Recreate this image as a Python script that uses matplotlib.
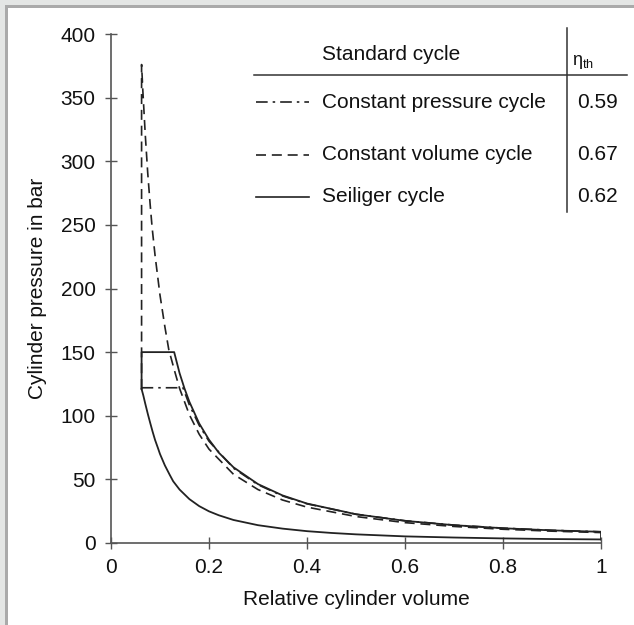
import matplotlib
matplotlib.use('Agg')
import matplotlib.pyplot as plt
from matplotlib.lines import Line2D
from matplotlib.patches import Rectangle

plt.rcParams['font.family'] = ['Liberation Sans', 'DejaVu Sans']
plt.rcParams['mathtext.fontset'] = 'custom'
plt.rcParams['mathtext.rm'] = 'Liberation Sans'

# 压缩线（三个循环共用）
压缩_v = [1.0, 0.9, 0.8, 0.7, 0.6, 0.5, 0.45, 0.4, 0.35, 0.3, 0.25, 0.22, 0.2, 0.18,
         0.16, 0.14, 0.127, 0.12, 0.11, 0.1, 0.096, 0.09, 0.085, 0.08, 0.0755, 0.07, 0.066, 0.0625]
压缩_p = [2.8, 3.1, 3.6, 4.3, 5.2, 6.8, 7.9, 9.3, 11.3, 14.0, 18.1, 21.8, 24.9, 29.0,
         34.5, 42.0, 48.5, 53.5, 61.0, 70.0, 74.5, 81.0, 87.5, 94.5, 101.0, 109.5, 116.0, 121.0]

# 等压循环 (Constant pressure)
等压_v = [0.0625, 0.147, 0.16, 0.18, 0.2, 0.25, 0.3, 0.35, 0.4, 0.5, 0.6, 0.7, 0.8, 0.9, 1.0]
等压_p = [122.0, 122.0, 108.5, 92.5, 80.0, 58.8, 45.8, 37.0, 30.8, 22.6, 17.5, 14.1, 11.7, 10.0, 8.8]

# 等容循环 (Constant volume)
等容_v = [0.0625, 0.0625, 0.065, 0.07, 0.075, 0.08, 0.084, 0.09, 0.1, 0.11, 0.118, 0.13, 0.14,
         0.16, 0.18, 0.2, 0.25, 0.3, 0.35, 0.4, 0.5, 0.6, 0.7, 0.8, 0.9, 1.0]
等容_p = [121.0, 376.0, 356.0, 321.0, 291.0, 266.0, 248.0, 226.0, 195.0, 170.0, 152.0, 135.0, 121.5,
         100.8, 85.5, 73.8, 54.0, 42.0, 33.8, 28.2, 20.8, 16.0, 13.0, 10.8, 9.3, 8.2]

# Seiliger 循环
混合_v = [0.0625, 0.0625, 0.129, 0.14, 0.15, 0.16, 0.18, 0.2, 0.22, 0.25, 0.3, 0.35, 0.4,
         0.5, 0.6, 0.7, 0.8, 0.9, 1.0, 1.0]
混合_p = [121.0, 150.0, 150.0, 133.5, 121.5, 111.0, 94.0, 81.2, 71.0, 59.5, 46.3, 37.4, 31.0,
         22.6, 17.4, 14.0, 11.6, 9.9, 8.8, 2.8]

图例名称 = ['Constant pressure cycle', 'Constant volume cycle', 'Seiliger cycle']
效率 = ['0.59', '0.67', '0.62']

线色 = '#222222'
字色 = '#111111'
字号 = 15
虚线 = (0, (6, 3.5))
点划线 = (0, (7, 3, 1.5, 3))

fig = plt.figure(figsize=(6.34, 6.25), dpi=100)
ax = fig.add_axes([0.175, 0.1312, 0.773, 0.8144])

ax.plot(压缩_v, 压缩_p, color=线色, lw=1.3)
ax.plot(混合_v, 混合_p, color=线色, lw=1.3)
ax.plot(等容_v, 等容_p, color=线色, lw=1.2, linestyle=虚线)
ax.plot(等压_v, 等压_p, color=线色, lw=1.2, linestyle=点划线)

ax.set_xlim(0, 1)
ax.set_ylim(0, 400)
ax.set_xticks([0, 0.2, 0.4, 0.6, 0.8, 1])
ax.set_xticklabels(['0', '0.2', '0.4', '0.6', '0.8', '1'])
ax.set_yticks(range(0, 401, 50))
for s in ['top', 'right']:
    ax.spines[s].set_visible(False)
for s in ['left', 'bottom']:
    ax.spines[s].set_color('#555555')
    ax.spines[s].set_linewidth(1.2)
ax.tick_params(direction='inout', length=8, width=1, color='#555555',
               labelsize=字号, labelcolor=字色, pad=7)
ax.set_xlabel('Relative cylinder volume', fontsize=字号, labelpad=9, color=字色)
ax.set_ylabel('Cylinder pressure in bar', fontsize=字号, labelpad=10, color=字色)

# 图例表格（像素坐标换算）
W, H = 634, 625
def fx(x): return x / W
def fy(y): return 1 - y / H

fig.add_artist(Line2D([fx(254), fx(627)], [fy(75), fy(75)], color='#333333', lw=1.1))
fig.add_artist(Line2D([fx(567), fx(567)], [fy(28), fy(212)], color='#333333', lw=1.1))
fig.text(fx(391), fy(55), 'Standard cycle', fontsize=字号, ha='center', va='center', color=字色)
fig.text(fx(572), fy(62), r'$\mathregular{\eta_{th}}$', fontsize=13, ha='left', va='center', color=字色)

样式 = [点划线, 虚线, '-']
行y = [102, 155, 197]
for 名, 值, 式, y in zip(图例名称, 效率, 样式, 行y):
    fig.add_artist(Line2D([fx(256), fx(309)], [fy(y), fy(y)], color=线色, lw=1.2, linestyle=式))
    fig.text(fx(322), fy(y), 名, fontsize=字号, ha='left', va='center', color=字色)
    fig.text(fx(577), fy(y), 值, fontsize=字号, ha='left', va='center', color=字色)

# 外框
fig.add_artist(Rectangle((0, 0), fx(5), 1, transform=fig.transFigure, color='#e4e6e5', lw=0))
fig.add_artist(Rectangle((0, fy(5)), 1, 5 / H, transform=fig.transFigure, color='#e4e6e5', lw=0))
fig.add_artist(Rectangle((fx(5), 0), fx(3), fy(5), transform=fig.transFigure, color='#aaaaaa', lw=0))
fig.add_artist(Rectangle((fx(5), fy(8)), 1, 3 / H, transform=fig.transFigure, color='#aaaaaa', lw=0))

fig.savefig('out.png', dpi=100)
